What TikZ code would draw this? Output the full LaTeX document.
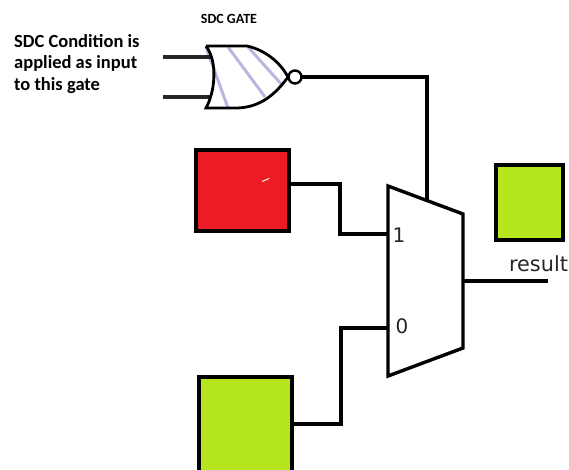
\documentclass[tikz,border=0pt]{standalone}
\usepackage{fontspec}
\setmainfont{Carlito}
\newfontfamily\resfont{DejaVu Sans}
\definecolor{limeb}{RGB}{181,230,29}
\definecolor{redb}{RGB}{237,28,36}
\definecolor{hatchc}{RGB}{190,180,225}
\tikzset{
 wire/.style={line width=3.4pt,black,line join=miter,line cap=butt},
 thin wire/.style={line width=2.8pt,black},
 input wire/.style={line width=3.2pt,black!85},
 regbox/.style={draw=black,line width=4pt,inner sep=0pt,anchor=north west,outer sep=0pt},
 lab/.style={inner sep=0pt,text=black,align=left},
 hatchline/.style={hatchc,line width=3pt},
 muxlab/.style={font=\resfont\fontsize{20}{20}\selectfont,inner sep=0pt,text=black!85},
}
\begin{document}
\begin{tikzpicture}[x=1pt,y=-1pt]
\useasboundingbox (0,0) rectangle (569,470);
% labels
\node[lab,font=\bfseries\fontsize{14}{16}\selectfont] (title) at (229,19) {SDC GATE};
\node[lab,anchor=north west,font=\bfseries\fontsize{18.5}{21.5}\selectfont] (cond) at (14,34)
 {SDC Condition is\\applied as input\\to this gate};
% gate
\coordinate (gtl) at (206,46);
\coordinate (gbl) at (206,108);
\coordinate (gtip) at (288,77);
\coordinate (in1a) at (163,57);
\coordinate (in1b) at (211,57);
\coordinate (in2a) at (163,97);
\coordinate (in2b) at (211,97);
\draw[hatchline] (206,47) -- (228,108);
\draw[hatchline] (228,47) -- (265,97);
\draw[hatchline] (248,47) -- (282,85);
\draw[input wire] (in1a) -- (in1b);
\draw[input wire] (in2a) -- (in2b);
\draw[thin wire] (gtl) -- (247,46) .. controls (265,50) and (280,62) .. (gtip)
  .. controls (275,95) and (260,107) .. (238,108) -- (gbl)
  .. controls (215,92) and (218,62) .. (gtl);
\node[circle,draw=black,line width=2.4pt,fill=white,minimum size=13pt,inner sep=0pt,outer sep=0pt] (bub) at (295,77) {};
% mux
\coordinate (mtl) at (388,186);
\coordinate (mtr) at (463,214);
\coordinate (mbr) at (463,348);
\coordinate (mbl) at (388,376);
\coordinate (sel) at (427,200);
\coordinate (m1) at (388,234);
\coordinate (m0) at (388,328);
\coordinate (mout) at (463,281);
\coordinate (resend) at (548,281);
\draw[line width=3.4pt,line join=miter] (mtl) -- (mtr) -- (mbr) -- (mbl) -- cycle;
\node[muxlab] (one) at (399,235) {1};
\node[muxlab] (zero) at (402,326) {0};
% boxes
\node[regbox,fill=redb,minimum width=93pt,minimum height=80pt] (red) at (195.5,150.5) {};
\node[regbox,fill=limeb,minimum width=93pt,minimum height=100pt] (lime) at (199,376.5) {};
\node[regbox,fill=limeb,minimum width=67pt,minimum height=74pt] (lime2) at (495.5,165.5) {};
\node[font=\resfont\fontsize{20.8}{22}\selectfont,inner sep=0pt,text=black!85] (res) at (538.5,264) {result};
% wires
\draw[wire] (bub.east) -- (427,77) -- (sel);
\draw[wire] (red.east |- 0,184) -- (340,184) -- (340,234) -- (m1);
\draw[wire] (m0) -- (341,328) -- (341,424) -- (lime.east |- 0,424);
\draw[wire] (mout) -- (resend);
\fill[white] (262,181) -- (269,178) -- (269,179) -- (262,182) -- cycle;
\end{tikzpicture}
\end{document}
